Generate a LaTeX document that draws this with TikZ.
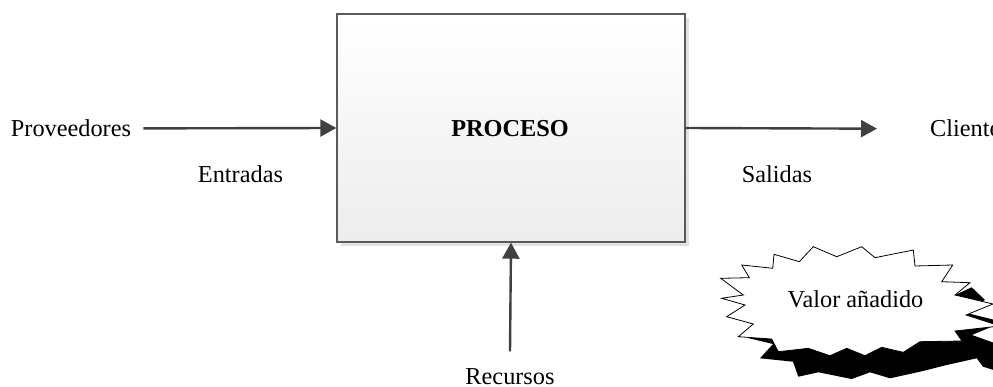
\documentclass[tikz,border=0pt]{standalone}
\usepackage{fontspec}
\setmainfont{Liberation Serif}
\usetikzlibrary{arrows.meta,shadows}
\definecolor{arrgray}{HTML}{404040}
\definecolor{boxborder}{HTML}{5A5A5A}
\definecolor{boxbottom}{HTML}{EDEDED}
\definecolor{boxshadow}{HTML}{E2E2E2}
\tikzset{
  lbl/.style={inner sep=0pt, font=\fontsize{24.3}{29}\selectfont},
  arr/.style={draw=arrgray, line width=2.4pt, -{Triangle[length=16pt,width=17pt]}, arrgray},
  procbox/.style={draw=boxborder, line width=1.4pt, top color=white, bottom color=boxbottom,
     minimum width=348pt, minimum height=228pt, inner sep=0pt,
     drop shadow={shadow xshift=4pt, shadow yshift=-4pt, fill=boxshadow, opacity=1}},
  starline/.style={draw=black, line width=0.8pt, fill=white, line join=miter},
  starshadow/.style={fill=black},
}
\begin{document}
\begin{tikzpicture}[x=1pt,y=-1pt]
\useasboundingbox (0,0) rectangle (993,387);
\clip (0,0) rectangle (993,387);
\fill[white] (0,0) rectangle (993,387);

\node[procbox] (proc) at (511,128) {};
\node[lbl, font=\fontsize{24.3}{29}\selectfont\bfseries, anchor=base] (ptxt) at (510,137) {PROCESO};

\node[lbl, anchor=base] (prov) at (71,136.7) {Proveedores};
\node[lbl, anchor=base] (ent) at (240.5,183) {Entradas};
\node[lbl, anchor=base] (sal) at (777,183) {Salidas};
\node[lbl, anchor=base west] (cli) at (930,137) {Clientes};
\node[lbl, anchor=base] (rec) at (510,384.5) {Recursos};

\draw[arr] ([xshift=12pt]prov.east) -- (proc.west);
\draw[arr] (proc.east) -- ([xshift=-53pt]cli.west);
\draw[arr] ([yshift=17pt]rec.north) -- (proc.south);

% star (valor anadido): black shadow, then white star
\fill[starshadow] (955,295) -- (971.7,287.3) -- (985,300) -- (961.7,311.7) -- (1003,322)
 -- (972,335) -- (1000,345) -- (1000,372) -- (983,366.7) -- (976.7,358.3) -- (946.7,365)
 -- (920,371.7) -- (890,378.3) -- (870,372.3) -- (851.7,379) -- (818.3,372.3)
 -- (798.3,376.7) -- (793,361.7) -- (760,358.3) -- (773,344) -- (748,338) -- (850,320) -- cycle;
\path[starline] (720.7,278.3) -- (749.3,277.7) -- (741.7,265) -- (772.7,268.3) -- (774,254.3)
 -- (799.3,261.7) -- (813.3,246.7) -- (836.7,256.7) -- (861.7,246.7) -- (875,257.7)
 -- (913.3,250) -- (915,266) -- (952.7,265) -- (941.7,281.7) -- (970,282.7)
 -- (955,295) -- (993,304) -- (966,315) -- (1000,326) -- (955,331) -- (962,341)
 -- (920,341.7) -- (903.3,352.3) -- (881.7,347.3) -- (865,355.7) -- (846.7,348.3)
 -- (830,355.7) -- (808.3,348.3) -- (778.3,351.7) -- (771.7,339) -- (738.3,336.7)
 -- (753.3,324) -- (726.7,316.7) -- (745,305) -- (721.7,298.3) -- (743.3,295) -- cycle;
\node[lbl, anchor=base] (val) at (855.5,308) {Valor añadido};
\end{tikzpicture}
\end{document}
